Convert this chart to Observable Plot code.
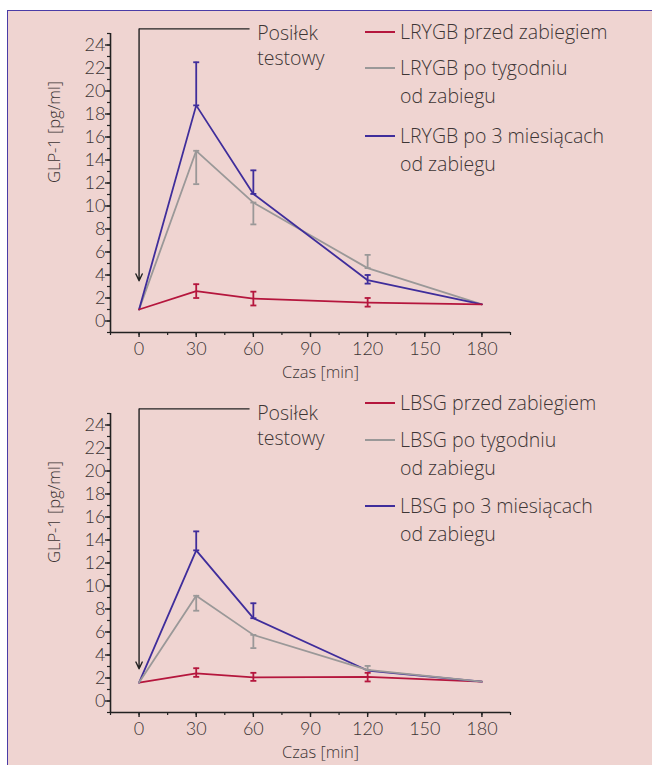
<!DOCTYPE html>
<html>
<head>
<meta charset="utf-8">
<script src="https://cdn.jsdelivr.net/npm/d3@7"></script>
<script src="https://cdn.jsdelivr.net/npm/@observablehq/plot@0.6"></script>
<style>
  html, body { margin: 0; padding: 0; background: #ffffff; }
  body { width: 652px; height: 765px; position: relative; overflow: hidden;
         font-family: "Open Sans", "Noto Sans", sans-serif; font-weight: 300; color: #3d3535; }
  #frame { position: absolute; left: 7px; top: 10px; right: 0; bottom: 0;
           background: #efd4d1; border-left: 1.5px solid #4a3ca6; border-top: 1.5px solid #4a3ca6; }
  .chart { position: absolute; left: 0; width: 652px; height: 380px; }
  .chart svg { position: absolute; left: 0; top: 0; }
  .legend-item { position: absolute; left: 365px; font-size: 19.5px; line-height: 28px; white-space: nowrap; }
  .legend-item .sw { position: absolute; left: 0; top: 13px; width: 30px; height: 2px; }
  .legend-item .tx { position: absolute; left: 35px; top: 0; }
</style>
</head>
<body>
<div id="frame"></div>
<div class="chart" id="c1" style="top:0px"></div>
<div class="chart" id="c2" style="top:380px"></div>
<script>
// ---------- data ----------
const times = [0, 30, 60, 120, 180];
const xTicks = [0, 30, 60, 90, 120, 150, 180];
const yTicks = [0, 2, 4, 6, 8, 10, 12, 14, 16, 18, 20, 22, 24];

const seriesColors = ["#b5163d", "#9a9898", "#3f2d9b"];

// LRYGB
const rygbNames = ["LRYGB przed zabiegiem", "LRYGB po tygodniu\nod zabiegu", "LRYGB po 3 miesiącach\nod zabiegu"];
const rygbPre    = [1.0, 2.6, 1.95, 1.6, 1.45];
const rygbPreLo  = [null, 2.0, 1.35, 1.25, null];
const rygbPreHi  = [null, 3.2, 2.55, 2.0, null];
const rygbWeek   = [1.0, 14.8, 10.3, 4.6, 1.45];
const rygbWeekLo = [null, 11.9, 8.4, 4.6, null];
const rygbWeekHi = [null, 14.8, 10.3, 5.75, null];
const rygb3m     = [1.0, 18.75, 11.05, 3.55, 1.45];
const rygb3mLo   = [null, 18.75, 11.05, 3.25, null];
const rygb3mHi   = [null, 22.5, 13.1, 4.0, null];

// LBSG
const sgNames = ["LBSG przed zabiegiem", "LBSG po tygodniu\nod zabiegu", "LBSG po 3 miesiącach\nod zabiegu"];
const sgPre    = [1.6, 2.4, 2.05, 2.1, 1.68];
const sgPreLo  = [null, 2.1, 1.75, 1.7, null];
const sgPreHi  = [null, 2.85, 2.45, 2.45, null];
const sgWeek   = [1.6, 9.15, 5.75, 2.7, 1.68];
const sgWeekLo = [null, 7.85, 4.6, 2.7, null];
const sgWeekHi = [null, 9.15, 5.75, 3.05, null];
const sg3m     = [1.6, 13.1, 7.2, 2.65, 1.68];
const sg3mLo   = [null, 13.1, 7.2, null, null];
const sg3mHi   = [null, 14.75, 8.5, null, null];

// annotation "Posiłek testowy" (meal at t = 0)
const mealLabel = "Posiłek\ntestowy";
const rygbMeal = [{x: 0, top: 25.4, tip: 3.5, end: 58, labelX: 62}];
const sgMeal   = [{x: 0, top: 25.4, tip: 2.8, end: 58, labelX: 62}];

// ---------- helpers ----------
const font = '"Open Sans", "Noto Sans", sans-serif';
const tickFont = 'Lato, "Open Sans", sans-serif';
const ink = "#3d3535";
const axisInk = "#222222";

const capSymbol = { draw(ctx, size) { const w = Math.sqrt(size / Math.PI); ctx.moveTo(-w, 0); ctx.lineTo(w, 0); } };

function rows(values) { return times.map((t, i) => ({t, v: values[i]})); }
function errRows(lo, hi) {
  return times.map((t, i) => ({t, lo: lo[i], hi: hi[i]})).filter(d => d.lo != null && d.hi != null);
}

function chart(series, meal) {
  const marks = [];
  // minor ticks (no labels)
  marks.push(Plot.axisY({ticks: d3.range(-1, 26, 1), tickSize: 3, fill: "none", label: null, stroke: axisInk, strokeWidth: 1.2}));
  marks.push(Plot.axisX({ticks: d3.range(-15, 196, 15), tickSize: 3, fill: "none", label: null, stroke: axisInk, strokeWidth: 1.2}));
  // major ticks + labels
  marks.push(Plot.axisY({ticks: yTicks, tickSize: 5, tickPadding: 0, label: null, stroke: axisInk, strokeWidth: 1.4, fill: ink, fontFamily: tickFont, fontSize: 18, fontWeight: 300}));
  marks.push(Plot.axisX({ticks: xTicks, tickSize: 5, tickPadding: 5, label: null, stroke: axisInk, strokeWidth: 1.4, fill: ink, fontFamily: tickFont, fontSize: 18, fontWeight: 300}));
  // axis lines
  marks.push(Plot.ruleX([-15], {stroke: axisInk, strokeWidth: 1.6}));
  marks.push(Plot.ruleY([-1], {stroke: axisInk, strokeWidth: 1.6}));
  // axis titles
  marks.push(Plot.text(["Czas [min]"], {frameAnchor: "bottom", lineAnchor: "middle", dy: 40, dx: 10, fontSize: 16.5, fill: ink}));
  marks.push(Plot.text(["GLP-1 [pg/ml]"], {frameAnchor: "left", lineAnchor: "middle", rotate: -90, dx: -56, fontSize: 16.5, fill: ink}));
  // annotation
  marks.push(Plot.link(meal, {x1: "x", x2: "end", y1: "top", y2: "top", stroke: axisInk, strokeWidth: 1.4}));
  marks.push(Plot.arrow(meal, {x1: "x", y1: "top", x2: "x", y2: "tip", stroke: axisInk, strokeWidth: 1.4, headLength: 8, headAngle: 50}));
  marks.push(Plot.text(meal, {x: "labelX", y: "top", text: () => mealLabel, textAnchor: "start", lineAnchor: "top", dy: -6, lineHeight: 1.25, fontSize: 19.5, fill: ink}));
  // series
  for (const s of series) {
    const e = errRows(s.lo, s.hi);
    marks.push(Plot.ruleX(e, {x: "t", y1: "lo", y2: "hi", stroke: s.color, strokeWidth: 1.8}));
    marks.push(Plot.dot(e, {x: "t", y: "lo", symbol: capSymbol, r: 3, stroke: s.color, strokeWidth: 1.8, fill: "none"}));
    marks.push(Plot.dot(e, {x: "t", y: "hi", symbol: capSymbol, r: 3, stroke: s.color, strokeWidth: 1.8, fill: "none"}));
    marks.push(Plot.line(rows(s.values), {x: "t", y: "v", stroke: s.color, strokeWidth: 1.8}));
  }
  return Plot.plot({
    width: 652, height: 380,
    marginLeft: 110, marginRight: 142, marginTop: 33, marginBottom: 48,
    x: {domain: [-15, 195], axis: null},
    y: {domain: [-1, 25], axis: null},
    style: {background: "transparent", fontFamily: font, fontSize: "18px", fontWeight: 300, color: ink, overflow: "visible"},
    marks
  });
}

function legend(container, names, tops) {
  names.forEach((name, i) => {
    const item = document.createElement("div");
    item.className = "legend-item";
    item.style.top = tops[i] + "px";
    const sw = document.createElement("div");
    sw.className = "sw";
    sw.style.background = seriesColors[i];
    const tx = document.createElement("div");
    tx.className = "tx";
    tx.innerHTML = name.split("\n").join("<br>");
    item.appendChild(sw); item.appendChild(tx);
    container.appendChild(item);
  });
}

const c1 = document.getElementById("c1");
c1.appendChild(chart([
  {values: rygbWeek, lo: rygbWeekLo, hi: rygbWeekHi, color: seriesColors[1]},
  {values: rygb3m, lo: rygb3mLo, hi: rygb3mHi, color: seriesColors[2]},
  {values: rygbPre, lo: rygbPreLo, hi: rygbPreHi, color: seriesColors[0]}
], rygbMeal));
legend(c1, rygbNames, [18, 54, 122]);

const c2 = document.getElementById("c2");
c2.appendChild(chart([
  {values: sgPre, lo: sgPreLo, hi: sgPreHi, color: seriesColors[0]},
  {values: sg3m, lo: sg3mLo, hi: sg3mHi, color: seriesColors[2]},
  {values: sgWeek, lo: sgWeekLo, hi: sgWeekHi, color: seriesColors[1]}
], sgMeal));
legend(c2, sgNames, [9, 46, 112]);
</script>
</body>
</html>
